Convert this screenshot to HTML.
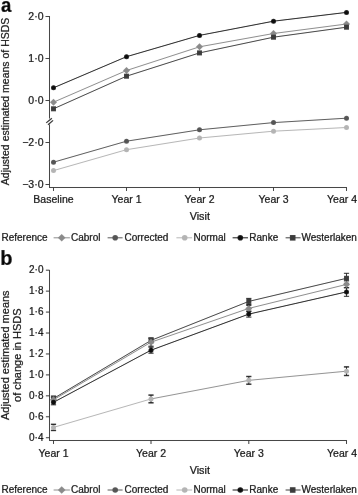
<!DOCTYPE html>
<html><head><meta charset="utf-8"><style>
html,body{margin:0;padding:0;background:#fff;width:358px;height:495px;overflow:hidden}
svg{display:block;will-change:transform}
text{font-family:"Liberation Sans", sans-serif;stroke-width:0.2px}
</style></head><body>
<svg width="358" height="495" viewBox="0 0 358 495">
<defs><filter id="bl" x="0" y="0" width="100%" height="100%" filterUnits="userSpaceOnUse"><feConvolveMatrix order="3" kernelMatrix="0.00027 0.01580 0.00027 0.01580 0.93575 0.01580 0.00027 0.01580 0.00027" preserveAlpha="true" edgeMode="duplicate"/></filter></defs>
<g filter="url(#bl)">
<rect width="358" height="495" fill="#fff"/>
<text x="0" y="0" font-size="20" text-anchor="start" font-weight="bold" fill="#000" stroke="#000" transform="translate(0.9,11.9) scale(0.93,1.02)">a</text>
<line x1="49.5" y1="16" x2="49.5" y2="118.5" stroke="#333" stroke-width="1"/>
<line x1="49.5" y1="124.5" x2="49.5" y2="187.5" stroke="#333" stroke-width="1"/>
<line x1="46.2" y1="122.9" x2="51.9" y2="118.2" stroke="#222" stroke-width="1.15"/>
<line x1="48" y1="124.7" x2="53.1" y2="120.4" stroke="#222" stroke-width="1.15"/>
<line x1="45.5" y1="16.5" x2="49.5" y2="16.5" stroke="#333" stroke-width="1"/>
<text x="43.5" y="20.2" font-size="10.5" text-anchor="end" font-weight="normal" fill="#000" stroke="#000" >2·0</text>
<line x1="45.5" y1="58.5" x2="49.5" y2="58.5" stroke="#333" stroke-width="1"/>
<text x="43.5" y="62.2" font-size="10.5" text-anchor="end" font-weight="normal" fill="#000" stroke="#000" >1·0</text>
<line x1="45.5" y1="100.5" x2="49.5" y2="100.5" stroke="#333" stroke-width="1"/>
<text x="43.5" y="104.2" font-size="10.5" text-anchor="end" font-weight="normal" fill="#000" stroke="#000" >0·0</text>
<line x1="45.5" y1="142.5" x2="49.5" y2="142.5" stroke="#333" stroke-width="1"/>
<text x="43.5" y="146.2" font-size="10.5" text-anchor="end" font-weight="normal" fill="#000" stroke="#000" >−2·0</text>
<line x1="45.5" y1="184.5" x2="49.5" y2="184.5" stroke="#333" stroke-width="1"/>
<text x="43.5" y="188.2" font-size="10.5" text-anchor="end" font-weight="normal" fill="#000" stroke="#000" >−3·0</text>
<line x1="49" y1="187.5" x2="347" y2="187.5" stroke="#333" stroke-width="1"/>
<line x1="53.5" y1="187.5" x2="53.5" y2="191" stroke="#333" stroke-width="1"/>
<text x="53.5" y="203.3" font-size="10.5" text-anchor="middle" font-weight="normal" fill="#000" stroke="#000" >Baseline</text>
<line x1="126.5" y1="187.5" x2="126.5" y2="191" stroke="#333" stroke-width="1"/>
<text x="126.5" y="203.3" font-size="10.5" text-anchor="middle" font-weight="normal" fill="#000" stroke="#000" >Year 1</text>
<line x1="199.5" y1="187.5" x2="199.5" y2="191" stroke="#333" stroke-width="1"/>
<text x="199.5" y="203.3" font-size="10.5" text-anchor="middle" font-weight="normal" fill="#000" stroke="#000" >Year 2</text>
<line x1="273.5" y1="187.5" x2="273.5" y2="191" stroke="#333" stroke-width="1"/>
<text x="273.5" y="203.3" font-size="10.5" text-anchor="middle" font-weight="normal" fill="#000" stroke="#000" >Year 3</text>
<line x1="346.5" y1="187.5" x2="346.5" y2="191" stroke="#333" stroke-width="1"/>
<text x="357" y="203.3" font-size="10.5" text-anchor="end" font-weight="normal" fill="#000" stroke="#000" >Year 4</text>
<text x="199.8" y="220" font-size="10.8" text-anchor="middle" font-weight="normal" fill="#000" stroke="#000" >Visit</text>
<text x="0" y="0" font-size="10.5" text-anchor="middle" font-weight="normal" fill="#000" stroke="#000" transform="translate(9.3,101.4) rotate(-90)">Adjusted estimated means of HSDS</text>
<polyline points="53.5,170.6 126.5,149.7 199.5,138 273.5,131.2 346.5,127.5" fill="none" stroke="#b4b4b4" stroke-width="1"/>
<polyline points="53.5,162.2 126.5,141.2 199.5,129.8 273.5,122.6 346.5,118.2" fill="none" stroke="#555" stroke-width="1"/>
<polyline points="53.5,102.2 126.5,70.5 199.5,46.8 273.5,33.5 346.5,24" fill="none" stroke="#8a8a8a" stroke-width="1"/>
<polyline points="53.5,108.8 126.5,76.2 199.5,52.9 273.5,37.2 346.5,27.2" fill="none" stroke="#3a3a3a" stroke-width="1"/>
<polyline points="53.5,87.8 126.5,56.7 199.5,35.4 273.5,21.2 346.5,12.4" fill="none" stroke="#111" stroke-width="1"/>
<circle cx="53.5" cy="170.6" r="2.5" fill="#b4b4b4"/>
<circle cx="126.5" cy="149.7" r="2.5" fill="#b4b4b4"/>
<circle cx="199.5" cy="138" r="2.5" fill="#b4b4b4"/>
<circle cx="273.5" cy="131.2" r="2.5" fill="#b4b4b4"/>
<circle cx="346.5" cy="127.5" r="2.5" fill="#b4b4b4"/>
<circle cx="53.5" cy="162.2" r="2.5" fill="#555"/>
<circle cx="126.5" cy="141.2" r="2.5" fill="#555"/>
<circle cx="199.5" cy="129.8" r="2.5" fill="#555"/>
<circle cx="273.5" cy="122.6" r="2.5" fill="#555"/>
<circle cx="346.5" cy="118.2" r="2.5" fill="#555"/>
<polygon points="53.5,98.7 57.0,102.2 53.5,105.7 50.0,102.2" fill="#8a8a8a"/>
<polygon points="126.5,67.0 130.0,70.5 126.5,74.0 123.0,70.5" fill="#8a8a8a"/>
<polygon points="199.5,43.3 203.0,46.8 199.5,50.3 196.0,46.8" fill="#8a8a8a"/>
<polygon points="273.5,30.0 277.0,33.5 273.5,37.0 270.0,33.5" fill="#8a8a8a"/>
<polygon points="346.5,20.5 350.0,24 346.5,27.5 343.0,24" fill="#8a8a8a"/>
<rect x="51.0" y="106.3" width="5" height="5" fill="#3a3a3a"/>
<rect x="124.0" y="73.7" width="5" height="5" fill="#3a3a3a"/>
<rect x="197.0" y="50.4" width="5" height="5" fill="#3a3a3a"/>
<rect x="271.0" y="34.7" width="5" height="5" fill="#3a3a3a"/>
<rect x="344.0" y="24.7" width="5" height="5" fill="#3a3a3a"/>
<circle cx="53.5" cy="87.8" r="2.5" fill="#111"/>
<circle cx="126.5" cy="56.7" r="2.5" fill="#111"/>
<circle cx="199.5" cy="35.4" r="2.5" fill="#111"/>
<circle cx="273.5" cy="21.2" r="2.5" fill="#111"/>
<circle cx="346.5" cy="12.4" r="2.5" fill="#111"/>
<text x="1.5" y="241" font-size="10" text-anchor="start" font-weight="normal" fill="#000" stroke="#000" >Reference</text>
<line x1="53.6" y1="237.8" x2="69.9" y2="237.8" stroke="#8a8a8a" stroke-width="1"/>
<polygon points="61.7,234.0 65.5,237.8 61.7,241.60000000000002 57.900000000000006,237.8" fill="#8a8a8a"/>
<text x="71" y="241" font-size="10" text-anchor="start" font-weight="normal" fill="#000" stroke="#000" >Cabrol</text>
<line x1="107.6" y1="237.8" x2="122.6" y2="237.8" stroke="#555" stroke-width="1"/>
<circle cx="115.2" cy="237.8" r="2.8" fill="#555"/>
<text x="124.5" y="241" font-size="10" text-anchor="start" font-weight="normal" fill="#000" stroke="#000" >Corrected</text>
<line x1="176.4" y1="237.8" x2="192.1" y2="237.8" stroke="#b4b4b4" stroke-width="1"/>
<circle cx="184.7" cy="237.8" r="2.8" fill="#b4b4b4"/>
<text x="193.5" y="241" font-size="10" text-anchor="start" font-weight="normal" fill="#000" stroke="#000" >Normal</text>
<line x1="232.6" y1="237.8" x2="248.0" y2="237.8" stroke="#111" stroke-width="1"/>
<circle cx="240.3" cy="237.8" r="2.8" fill="#111"/>
<text x="249.3" y="241" font-size="10" text-anchor="start" font-weight="normal" fill="#000" stroke="#000" >Ranke</text>
<line x1="285.6" y1="237.8" x2="300.6" y2="237.8" stroke="#3a3a3a" stroke-width="1"/>
<rect x="289.9" y="235.0" width="5.6" height="5.6" fill="#3a3a3a"/>
<text x="301.5" y="241" font-size="10" text-anchor="start" font-weight="normal" fill="#000" stroke="#000" >Westerlaken</text>
<text x="0.3" y="265.3" font-size="20" text-anchor="start" font-weight="bold" fill="#000" stroke="#000" >b</text>
<line x1="49.5" y1="270" x2="49.5" y2="440.5" stroke="#333" stroke-width="1"/>
<line x1="45.9" y1="270.2" x2="49.5" y2="270.2" stroke="#333" stroke-width="1"/>
<text x="43.5" y="273.2" font-size="10" text-anchor="end" font-weight="normal" fill="#000" stroke="#000" >2·0</text>
<line x1="45.9" y1="291.14" x2="49.5" y2="291.14" stroke="#333" stroke-width="1"/>
<text x="43.5" y="294.14" font-size="10" text-anchor="end" font-weight="normal" fill="#000" stroke="#000" >1·8</text>
<line x1="45.9" y1="312.08" x2="49.5" y2="312.08" stroke="#333" stroke-width="1"/>
<text x="43.5" y="315.08" font-size="10" text-anchor="end" font-weight="normal" fill="#000" stroke="#000" >1·6</text>
<line x1="45.9" y1="333.02" x2="49.5" y2="333.02" stroke="#333" stroke-width="1"/>
<text x="43.5" y="336.02" font-size="10" text-anchor="end" font-weight="normal" fill="#000" stroke="#000" >1·4</text>
<line x1="45.9" y1="353.96" x2="49.5" y2="353.96" stroke="#333" stroke-width="1"/>
<text x="43.5" y="356.96" font-size="10" text-anchor="end" font-weight="normal" fill="#000" stroke="#000" >1·2</text>
<line x1="45.9" y1="374.9" x2="49.5" y2="374.9" stroke="#333" stroke-width="1"/>
<text x="43.5" y="377.9" font-size="10" text-anchor="end" font-weight="normal" fill="#000" stroke="#000" >1·0</text>
<line x1="45.9" y1="395.84" x2="49.5" y2="395.84" stroke="#333" stroke-width="1"/>
<text x="43.5" y="398.84" font-size="10" text-anchor="end" font-weight="normal" fill="#000" stroke="#000" >0·8</text>
<line x1="45.9" y1="416.78" x2="49.5" y2="416.78" stroke="#333" stroke-width="1"/>
<text x="43.5" y="419.78" font-size="10" text-anchor="end" font-weight="normal" fill="#000" stroke="#000" >0·6</text>
<line x1="45.9" y1="437.72" x2="49.5" y2="437.72" stroke="#333" stroke-width="1"/>
<text x="43.5" y="440.72" font-size="10" text-anchor="end" font-weight="normal" fill="#000" stroke="#000" >0·4</text>
<line x1="49" y1="440.5" x2="347" y2="440.5" stroke="#333" stroke-width="1"/>
<line x1="53.5" y1="440.5" x2="53.5" y2="444" stroke="#333" stroke-width="1"/>
<text x="53.5" y="456.5" font-size="10.5" text-anchor="middle" font-weight="normal" fill="#000" stroke="#000" >Year 1</text>
<line x1="151" y1="440.5" x2="151" y2="444" stroke="#333" stroke-width="1"/>
<text x="151" y="456.5" font-size="10.5" text-anchor="middle" font-weight="normal" fill="#000" stroke="#000" >Year 2</text>
<line x1="248.8" y1="440.5" x2="248.8" y2="444" stroke="#333" stroke-width="1"/>
<text x="248.8" y="456.5" font-size="10.5" text-anchor="middle" font-weight="normal" fill="#000" stroke="#000" >Year 3</text>
<line x1="346.5" y1="440.5" x2="346.5" y2="444" stroke="#333" stroke-width="1"/>
<text x="357" y="456.5" font-size="10.5" text-anchor="end" font-weight="normal" fill="#000" stroke="#000" >Year 4</text>
<text x="199.8" y="473.9" font-size="10.8" text-anchor="middle" font-weight="normal" fill="#000" stroke="#000" >Visit</text>
<text x="0" y="0" font-size="11" text-anchor="middle" font-weight="normal" fill="#000" stroke="#000" transform="translate(9.0,355.2) rotate(-90)">Adjusted estimated means</text>
<text x="0" y="0" font-size="11" text-anchor="middle" font-weight="normal" fill="#000" stroke="#000" transform="translate(21.2,355.2) rotate(-90)">of change in HSDS</text>
<polyline points="53.5,427.4 151,398.95" fill="none" stroke="#b4b4b4" stroke-width="1"/>
<polyline points="151,398.95 248.8,380.35 346.5,371.2" fill="none" stroke="#909090" stroke-width="1"/>
<polyline points="53.5,398.5 151,340.4 248.8,301.4 346.5,278.3" fill="none" stroke="#3a3a3a" stroke-width="1"/>
<polyline points="53.5,399.8 151,342.2 248.8,308.4 346.5,284.4" fill="none" stroke="#8a8a8a" stroke-width="1"/>
<polyline points="53.5,402.3 151,350.2 248.8,314.1 346.5,291.9" fill="none" stroke="#111" stroke-width="1"/>
<line x1="53.5" y1="424.34999999999997" x2="53.5" y2="430.45" stroke="#222" stroke-width="1"/>
<line x1="50.9" y1="424.34999999999997" x2="56.1" y2="424.34999999999997" stroke="#1a1a1a" stroke-width="1.4"/>
<line x1="50.9" y1="430.45" x2="56.1" y2="430.45" stroke="#1a1a1a" stroke-width="1.4"/>
<line x1="151" y1="395.09999999999997" x2="151" y2="402.8" stroke="#222" stroke-width="1"/>
<line x1="148.4" y1="395.09999999999997" x2="153.6" y2="395.09999999999997" stroke="#1a1a1a" stroke-width="1.4"/>
<line x1="148.4" y1="402.8" x2="153.6" y2="402.8" stroke="#1a1a1a" stroke-width="1.4"/>
<line x1="248.8" y1="376.5" x2="248.8" y2="384.20000000000005" stroke="#222" stroke-width="1"/>
<line x1="246.20000000000002" y1="376.5" x2="251.4" y2="376.5" stroke="#1a1a1a" stroke-width="1.4"/>
<line x1="246.20000000000002" y1="384.20000000000005" x2="251.4" y2="384.20000000000005" stroke="#1a1a1a" stroke-width="1.4"/>
<line x1="346.5" y1="366.9" x2="346.5" y2="375.5" stroke="#222" stroke-width="1"/>
<line x1="343.9" y1="366.9" x2="349.1" y2="366.9" stroke="#1a1a1a" stroke-width="1.4"/>
<line x1="343.9" y1="375.5" x2="349.1" y2="375.5" stroke="#1a1a1a" stroke-width="1.4"/>
<line x1="53.5" y1="396.0" x2="53.5" y2="401.0" stroke="#222" stroke-width="1"/>
<line x1="50.9" y1="396.0" x2="56.1" y2="396.0" stroke="#1a1a1a" stroke-width="1"/>
<line x1="50.9" y1="401.0" x2="56.1" y2="401.0" stroke="#1a1a1a" stroke-width="1"/>
<line x1="151" y1="337.9" x2="151" y2="342.9" stroke="#222" stroke-width="1"/>
<line x1="148.4" y1="337.9" x2="153.6" y2="337.9" stroke="#1a1a1a" stroke-width="1"/>
<line x1="148.4" y1="342.9" x2="153.6" y2="342.9" stroke="#1a1a1a" stroke-width="1"/>
<line x1="248.8" y1="298.4" x2="248.8" y2="304.4" stroke="#222" stroke-width="1"/>
<line x1="246.20000000000002" y1="298.4" x2="251.4" y2="298.4" stroke="#1a1a1a" stroke-width="1"/>
<line x1="246.20000000000002" y1="304.4" x2="251.4" y2="304.4" stroke="#1a1a1a" stroke-width="1"/>
<line x1="346.5" y1="273.3" x2="346.5" y2="283.3" stroke="#222" stroke-width="1"/>
<line x1="343.9" y1="273.3" x2="349.1" y2="273.3" stroke="#1a1a1a" stroke-width="1"/>
<line x1="343.9" y1="283.3" x2="349.1" y2="283.3" stroke="#1a1a1a" stroke-width="1"/>
<line x1="53.5" y1="397.3" x2="53.5" y2="402.3" stroke="#222" stroke-width="1"/>
<line x1="50.9" y1="397.3" x2="56.1" y2="397.3" stroke="#1a1a1a" stroke-width="1"/>
<line x1="50.9" y1="402.3" x2="56.1" y2="402.3" stroke="#1a1a1a" stroke-width="1"/>
<line x1="151" y1="338.2" x2="151" y2="346.2" stroke="#222" stroke-width="1"/>
<line x1="148.4" y1="338.2" x2="153.6" y2="338.2" stroke="#1a1a1a" stroke-width="1"/>
<line x1="148.4" y1="346.2" x2="153.6" y2="346.2" stroke="#1a1a1a" stroke-width="1"/>
<line x1="248.8" y1="305.4" x2="248.8" y2="311.4" stroke="#222" stroke-width="1"/>
<line x1="246.20000000000002" y1="305.4" x2="251.4" y2="305.4" stroke="#1a1a1a" stroke-width="1"/>
<line x1="246.20000000000002" y1="311.4" x2="251.4" y2="311.4" stroke="#1a1a1a" stroke-width="1"/>
<line x1="346.5" y1="280.9" x2="346.5" y2="287.9" stroke="#222" stroke-width="1"/>
<line x1="343.9" y1="280.9" x2="349.1" y2="280.9" stroke="#1a1a1a" stroke-width="1"/>
<line x1="343.9" y1="287.9" x2="349.1" y2="287.9" stroke="#1a1a1a" stroke-width="1"/>
<line x1="53.5" y1="399.8" x2="53.5" y2="404.8" stroke="#222" stroke-width="1"/>
<line x1="50.9" y1="399.8" x2="56.1" y2="399.8" stroke="#1a1a1a" stroke-width="1"/>
<line x1="50.9" y1="404.8" x2="56.1" y2="404.8" stroke="#1a1a1a" stroke-width="1"/>
<line x1="151" y1="347.2" x2="151" y2="353.2" stroke="#222" stroke-width="1"/>
<line x1="148.4" y1="347.2" x2="153.6" y2="347.2" stroke="#1a1a1a" stroke-width="1"/>
<line x1="148.4" y1="353.2" x2="153.6" y2="353.2" stroke="#1a1a1a" stroke-width="1"/>
<line x1="248.8" y1="311.1" x2="248.8" y2="317.1" stroke="#222" stroke-width="1"/>
<line x1="246.20000000000002" y1="311.1" x2="251.4" y2="311.1" stroke="#1a1a1a" stroke-width="1"/>
<line x1="246.20000000000002" y1="317.1" x2="251.4" y2="317.1" stroke="#1a1a1a" stroke-width="1"/>
<line x1="346.5" y1="287.5" x2="346.5" y2="296.29999999999995" stroke="#222" stroke-width="1"/>
<line x1="343.9" y1="287.5" x2="349.1" y2="287.5" stroke="#1a1a1a" stroke-width="1"/>
<line x1="343.9" y1="296.29999999999995" x2="349.1" y2="296.29999999999995" stroke="#1a1a1a" stroke-width="1"/>
<circle cx="53.5" cy="427.4" r="2.5" fill="#b4b4b4"/>
<circle cx="151" cy="398.95" r="2.5" fill="#b4b4b4"/>
<circle cx="248.8" cy="380.35" r="2.5" fill="#b4b4b4"/>
<circle cx="346.5" cy="371.2" r="2.5" fill="#b4b4b4"/>
<rect x="51.0" y="396.0" width="5" height="5" fill="#3a3a3a"/>
<rect x="148.5" y="337.9" width="5" height="5" fill="#3a3a3a"/>
<rect x="246.3" y="298.9" width="5" height="5" fill="#3a3a3a"/>
<rect x="344.0" y="275.8" width="5" height="5" fill="#3a3a3a"/>
<polygon points="53.5,396.3 57.0,399.8 53.5,403.3 50.0,399.8" fill="#8a8a8a"/>
<polygon points="151,338.7 154.5,342.2 151,345.7 147.5,342.2" fill="#8a8a8a"/>
<polygon points="248.8,304.9 252.3,308.4 248.8,311.9 245.3,308.4" fill="#8a8a8a"/>
<polygon points="346.5,280.9 350.0,284.4 346.5,287.9 343.0,284.4" fill="#8a8a8a"/>
<circle cx="53.5" cy="402.3" r="2.5" fill="#111"/>
<circle cx="151" cy="350.2" r="2.5" fill="#111"/>
<circle cx="248.8" cy="314.1" r="2.5" fill="#111"/>
<circle cx="346.5" cy="291.9" r="2.5" fill="#111"/>
<text x="1.5" y="493" font-size="10" text-anchor="start" font-weight="normal" fill="#000" stroke="#000" >Reference</text>
<line x1="53.6" y1="490.0" x2="69.9" y2="490.0" stroke="#8a8a8a" stroke-width="1"/>
<polygon points="61.7,486.2 65.5,490.0 61.7,493.8 57.900000000000006,490.0" fill="#8a8a8a"/>
<text x="71" y="493" font-size="10" text-anchor="start" font-weight="normal" fill="#000" stroke="#000" >Cabrol</text>
<line x1="107.6" y1="490.0" x2="122.6" y2="490.0" stroke="#555" stroke-width="1"/>
<circle cx="115.2" cy="490.0" r="2.8" fill="#555"/>
<text x="124.5" y="493" font-size="10" text-anchor="start" font-weight="normal" fill="#000" stroke="#000" >Corrected</text>
<line x1="176.4" y1="490.0" x2="192.1" y2="490.0" stroke="#b4b4b4" stroke-width="1"/>
<circle cx="184.7" cy="490.0" r="2.8" fill="#b4b4b4"/>
<text x="193.5" y="493" font-size="10" text-anchor="start" font-weight="normal" fill="#000" stroke="#000" >Normal</text>
<line x1="232.6" y1="490.0" x2="248.0" y2="490.0" stroke="#111" stroke-width="1"/>
<circle cx="240.3" cy="490.0" r="2.8" fill="#111"/>
<text x="249.3" y="493" font-size="10" text-anchor="start" font-weight="normal" fill="#000" stroke="#000" >Ranke</text>
<line x1="285.6" y1="490.0" x2="300.6" y2="490.0" stroke="#3a3a3a" stroke-width="1"/>
<rect x="289.9" y="487.2" width="5.6" height="5.6" fill="#3a3a3a"/>
<text x="301.5" y="493" font-size="10" text-anchor="start" font-weight="normal" fill="#000" stroke="#000" >Westerlaken</text>
</g>
</svg>
</body></html>
